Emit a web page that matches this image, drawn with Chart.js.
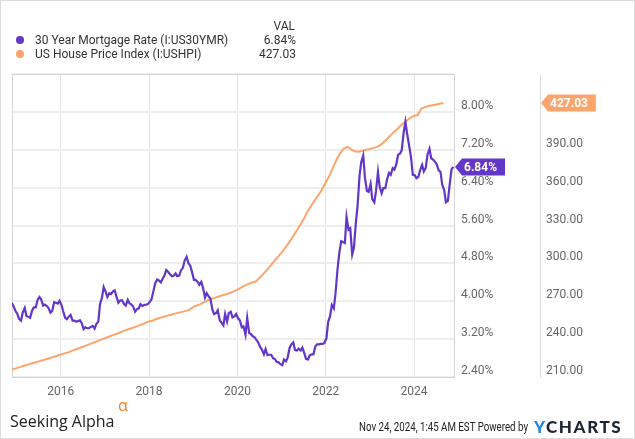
<!DOCTYPE html>
<html>
<head>
<meta charset="utf-8">
<script src="https://cdn.jsdelivr.net/npm/chart.js@4.4.1/dist/chart.umd.min.js"></script>
<style>
  html, body { margin: 0; padding: 0; background: #fff; }
  #wrap { position: relative; width: 635px; height: 439px; box-sizing: border-box; border: 1px solid #dcdcdc; overflow: hidden; font-family: Roboto, sans-serif; }
  #chart { position: absolute; left: -1px; top: -1px; }
  .leg { position: absolute; font-size: 12px; line-height: 14px; color: #333; white-space: nowrap; }
  .dot { position: absolute; width: 8px; height: 8px; border-radius: 50%; }
  .val { text-align: right; width: 60px; }
  #sa { position: absolute; left: 9px; top: 412px; font-family: "Open Sans", sans-serif; font-size: 16px; line-height: 16px; color: #222; white-space: nowrap; }
  #alpha { position: absolute; left: 117px; top: 396px; font-family: "Open Sans", sans-serif; font-size: 16px; line-height: 16px; color: #f58025; }
  #stamp { position: absolute; left: 358px; top: 419px; font-size: 12px; line-height: 14px; color: #222; white-space: nowrap; transform: scaleX(0.81); transform-origin: left center; }
  #yc { position: absolute; left: 533px; top: 415px; font-family: Lato, sans-serif; font-weight: 900; font-size: 17px; letter-spacing: 1.6px; color: #1c2632; white-space: nowrap; }
  #yc b { color: #2289e6; font-weight: 900; }
</style>
</head>
<body>
<div id="wrap">
  <canvas id="chart" width="635" height="439"></canvas>

  <div class="leg val" style="left:234px; top:18px;">VAL</div>
  <div class="dot" style="left:15px; top:35px; background:#6236c8;"></div>
  <div class="leg" style="left:34px; top:32px;">30 Year Mortgage Rate (I:US30YMR)</div>
  <div class="leg val" style="left:235px; top:32px;">6.84%</div>
  <div class="dot" style="left:15px; top:49px; background:#fba56c;"></div>
  <div class="leg" style="left:34px; top:46px;">US House Price Index (I:USHPI)</div>
  <div class="leg val" style="left:235px; top:46px;">427.03</div>

  <div id="sa">Seeking Alpha</div>
  <div id="alpha">α</div>
  <div id="stamp">Nov 24, 2024, 1:45 AM EST Powered by</div>
  <div id="yc"><b>Y</b>CHARTS</div>
</div>

<script>
// 30 year mortgage rate, two readings a month, first one is Nov 2014
const rateStart = { year: 2014, month: 11 };
const rateValues = [
    4.01, 3.97, 3.89, 3.80,
    3.73, 3.63, 3.59, 3.76, 3.86, 3.69, 3.67, 3.65, 3.80, 3.87, 3.87, 4.02,
    4.09, 4.04, 3.91, 3.93, 3.90, 3.86, 3.76, 3.79, 3.98, 3.97, 3.95, 4.01,
    3.92, 3.79, 3.65, 3.62, 3.68, 3.71, 3.59, 3.59, 3.57, 3.58, 3.60, 3.54,
    3.41, 3.45, 3.43, 3.43, 3.46, 3.48, 3.42, 3.52, 3.57, 3.94, 4.08, 4.30,
    4.20, 4.09, 4.17, 4.15, 4.21, 4.23, 4.08, 3.97, 4.02, 4.02, 3.94, 3.91,
    4.03, 3.96, 3.93, 3.89, 3.78, 3.83, 3.85, 3.94, 3.90, 3.92, 3.93, 3.94,
    3.99, 4.04, 4.22, 4.38, 4.46, 4.44, 4.40, 4.47, 4.55, 4.66, 4.62, 4.57,
    4.53, 4.54, 4.59, 4.53, 4.54, 4.65, 4.71, 4.86, 4.94, 4.81, 4.75, 4.62,
    4.45, 4.45, 4.41, 4.35, 4.41, 4.28, 4.08, 4.17, 4.10, 4.06, 3.82, 3.73,
    3.75, 3.81, 3.60, 3.55, 3.49, 3.73, 3.57, 3.75, 3.78, 3.66, 3.68, 3.73,
    3.64, 3.60, 3.45, 3.47, 3.29, 3.65, 3.33, 3.31, 3.26, 3.24, 3.18, 3.13,
    3.03, 2.98, 2.88, 2.99, 2.86, 2.87, 2.87, 2.80, 2.78, 2.72, 2.71, 2.67,
    2.65, 2.77, 2.73, 2.81, 3.02, 3.09, 3.13, 2.97, 2.96, 3.00, 2.96, 3.02,
    2.90, 2.78, 2.77, 2.86, 2.88, 2.88, 3.05, 3.09, 3.09, 3.10, 3.10, 3.12,
    3.22, 3.56, 3.69, 3.92, 3.85, 4.16, 4.67, 5.00, 5.27, 5.25, 5.23, 5.78,
    5.51, 5.54, 4.99, 5.13, 5.66, 6.02, 6.66, 6.94, 7.08, 6.61, 6.33, 6.31,
    6.48, 6.15, 6.09, 6.32, 6.73, 6.42, 6.28, 6.39, 6.39, 6.57, 6.71, 6.67,
    6.81, 6.78, 6.90, 7.09, 7.12, 7.19, 7.57, 7.79, 7.50, 7.29, 7.03, 6.67,
    6.66, 6.60, 6.63, 6.77, 6.88, 6.74, 6.82, 7.10, 7.22, 7.02, 6.99, 6.95,
    6.89, 6.77, 6.73, 6.46, 6.35, 6.09, 6.12, 6.44, 6.79, 6.84
];

// US house price index, monthly, first one is Nov 2014
const hpiStart = { year: 2014, month: 11 };
const hpiValues = [
    215.0, 216.2,
    217.0, 218.0, 218.9, 219.8, 220.7, 221.5, 222.4, 223.2, 224.1, 225.0, 225.9, 226.8,
    227.8, 228.7, 229.5, 230.7, 231.8, 232.9, 234.0, 235.1, 236.2, 237.4, 238.5, 239.6,
    240.8, 241.9, 243.0, 244.1, 245.2, 246.3, 247.4, 248.4, 249.4, 250.5, 251.7, 252.8,
    254.0, 254.8, 255.9, 256.8, 257.7, 258.6, 259.3, 260.2, 261.0, 261.6, 262.4, 263.4,
    265.5, 266.6, 267.7, 269.3, 270.8, 271.9, 272.9, 273.8, 274.7, 275.6, 276.6, 277.8,
    279.2, 280.8, 282.4, 283.8, 284.8, 285.6, 288.5, 291.5, 294.7, 298.3, 301.8, 305.1,
    308.6, 312.3, 316.4, 320.9, 325.5, 330.2, 334.8, 341.0, 345.5, 350.0, 354.0, 358.5,
    364.0, 369.5, 376.0, 382.5, 387.5, 391.2, 392.2, 390.0, 388.6, 388.4, 389.2, 390.0,
    390.6, 391.5, 392.3, 394.0, 396.6, 399.5, 402.6, 405.2, 408.0, 410.8, 413.0, 415.3,
    416.8, 417.5, 422.6, 423.8, 424.6, 425.2, 425.8, 426.4, 427.03
];

const yearTicks = [2016, 2018, 2020, 2022, 2024];
const rateTicks = { min: 2.4, max: 8.8, step: 0.8 };
const hpiTicks = { min: 210, max: 450, step: 30 };
const xRange = { min: 2014.895, max: 2024.905 };

const purple = '#6236c8';
const orange = '#fba56c';

// decimal year for a month offset (+ day within the month)
function toYear(start, monthOffset, day) {
    const m = start.month - 1 + monthOffset;
    return start.year + (m + (day - 1) / 30.5) / 12;
}

const rateData = rateValues.map((v, i) => ({
    x: toYear(rateStart, Math.floor(i / 2), i % 2 ? 21 : 7),
    y: v
}));
const hpiData = hpiValues.map((v, i) => ({ x: toYear(hpiStart, i, 1), y: v }));

// plot frame around the chart area
const frame = {
    id: 'frame',
    beforeDatasetsDraw(chart) {
        const { ctx, chartArea: a } = chart;
        ctx.save();
        ctx.strokeStyle = '#d4d4d4';
        ctx.lineWidth = 1;
        ctx.strokeRect(Math.round(a.left) + 0.5, Math.round(a.top) + 0.5,
            Math.round(a.right - a.left), Math.round(a.bottom - a.top));
        ctx.restore();
    }
};

// coloured flag with the last value on each axis
const lastTags = {
    id: 'lastTags',
    afterDraw(chart) {
        const ctx = chart.ctx;
        ctx.save();
        chart.data.datasets.forEach(ds => {
            const scale = chart.scales[ds.yAxisID];
            const last = ds.data[ds.data.length - 1];
            const y = Math.round(scale.getPixelForValue(last.y));
            const x = Math.round(scale.left) + 1;
            const text = ds.tagText;
            ctx.font = 'bold 12px Roboto';
            const w = ctx.measureText(text).width + 17;
            const h = 17;
            ctx.fillStyle = ds.borderColor;
            ctx.beginPath();
            ctx.moveTo(x, y);
            ctx.lineTo(x + 7, y - h / 2);
            ctx.lineTo(x + w, y - h / 2);
            ctx.lineTo(x + w, y + h / 2);
            ctx.lineTo(x + 7, y + h / 2);
            ctx.closePath();
            ctx.fill();
            ctx.fillStyle = '#fff';
            ctx.textBaseline = 'middle';
            ctx.textAlign = 'left';
            ctx.fillText(text, x + 9, y + 1);
        });
        ctx.restore();
    }
};

new Chart(document.getElementById('chart'), {
    type: 'line',
    data: {
        datasets: [{
            label: '30 Year Mortgage Rate (I:US30YMR)',
            data: rateData,
            yAxisID: 'yRate',
            borderColor: purple,
            borderWidth: 2.2,
            pointRadius: 0,
            tension: 0,
            tagText: '6.84%'
        }, {
            label: 'US House Price Index (I:USHPI)',
            data: hpiData,
            yAxisID: 'yHpi',
            borderColor: orange,
            borderWidth: 2,
            pointRadius: 0,
            tension: 0,
            tagText: '427.03'
        }]
    },
    options: {
        responsive: false,
        animation: false,
        layout: { padding: { left: 12, top: 74, right: 35, bottom: 38 } },
        plugins: {
            legend: { display: false },
            tooltip: { enabled: false }
        },
        scales: {
            x: {
                type: 'linear',
                min: xRange.min,
                max: xRange.max,
                afterBuildTicks: scale => { scale.ticks = yearTicks.map(v => ({ value: v })); },
                afterFit: scale => { scale.height = 24; },
                grid: { color: '#e4e4e4', lineWidth: 1, drawTicks: false },
                border: { display: false },
                ticks: {
                    autoSkip: false,
                    maxRotation: 0,
                    padding: 8,
                    color: '#666',
                    font: { family: 'Roboto', size: 12 },
                    callback: v => String(v)
                }
            },
            yRate: {
                position: 'right',
                weight: 0,
                min: rateTicks.min,
                max: rateTicks.max,
                afterFit: scale => { scale.width = 86; },
                grid: { color: '#eeeeee', lineWidth: 2, drawTicks: false },
                border: { display: false },
                ticks: {
                    stepSize: rateTicks.step,
                    autoSkip: false,
                    padding: 7,
                    labelOffset: -6,
                    color: '#666',
                    font: { family: 'Roboto', size: 12 },
                    callback: v => v > rateTicks.max - 0.01 ? '' : v.toFixed(2) + '%'
                }
            },
            yHpi: {
                position: 'right',
                weight: 1,
                min: hpiTicks.min,
                max: hpiTicks.max,
                afterFit: scale => { scale.width = 60; },
                grid: { display: false, drawTicks: false },
                border: { display: true, color: '#dddddd', width: 1 },
                ticks: {
                    stepSize: hpiTicks.step,
                    autoSkip: false,
                    padding: 6,
                    labelOffset: -6,
                    color: '#666',
                    font: { family: 'Roboto', size: 12 },
                    callback: v => v > hpiTicks.max - 0.1 ? '' : v.toFixed(2)
                }
            }
        }
    },
    plugins: [frame, lastTags]
});
</script>
</body>
</html>
